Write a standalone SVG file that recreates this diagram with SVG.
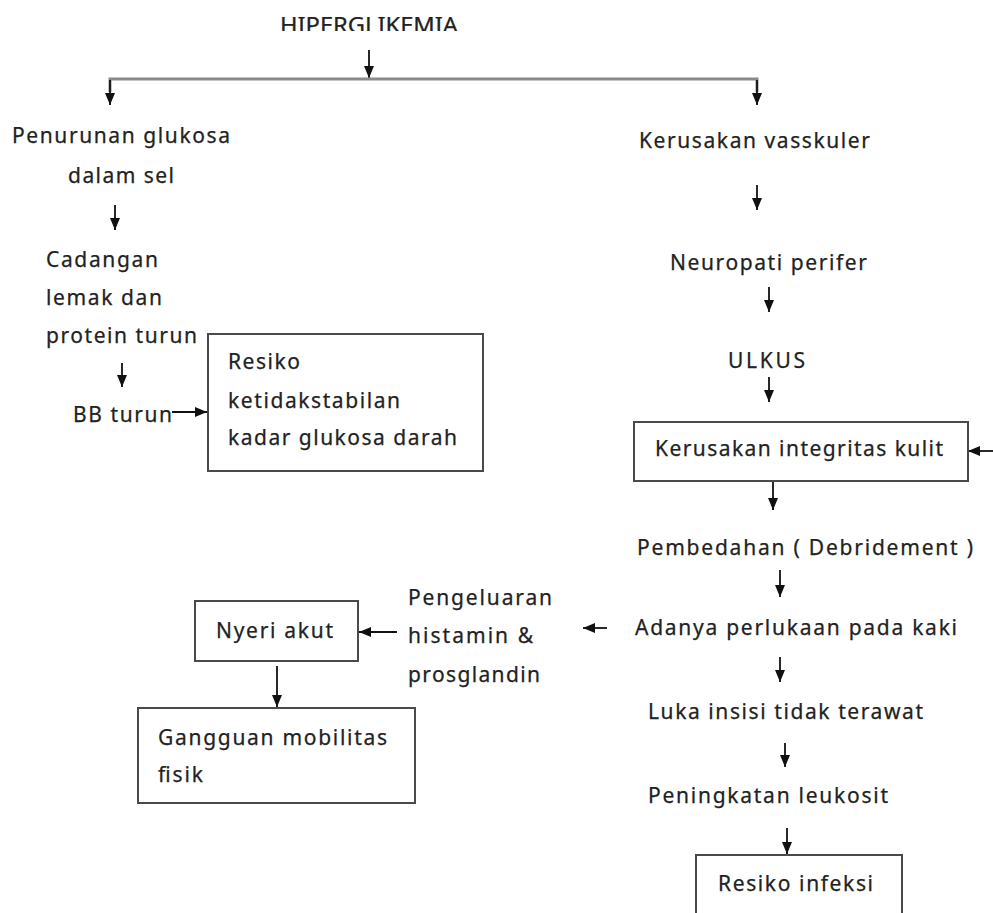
<svg xmlns="http://www.w3.org/2000/svg" width="993" height="913" viewBox="0 0 993 913">
<style>
text{font-family:"Noto Sans","Open Sans","Liberation Sans",sans-serif;font-size:21px;fill:#222;stroke:#222;stroke-width:0.25}
.box{fill:#fff;stroke:#4a4a4a;stroke-width:2}
.arr{stroke:#111;stroke-width:1.8;fill:none;marker-end:url(#ah)}
.bar{stroke:#8a8a8a;stroke-width:3;fill:none}
</style>
<defs>
<marker id="ah" markerUnits="userSpaceOnUse" markerWidth="14" markerHeight="14" viewBox="0 0 14 14" refX="13" refY="7" orient="auto">
<path d="M1,2 L13,7 L1,12 Z" fill="#111"/>
</marker>
<clipPath id="topclip"><rect x="0" y="0" width="993" height="31"/></clipPath>
</defs>
<rect width="993" height="913" fill="#fff"/>

<g id="connectors">
<line class="arr" x1="369" y1="50" x2="369" y2="78"/>
<polyline class="bar" points="110,92 110,79 757,79 757,92"/>
<line class="arr" x1="110" y1="80" x2="110" y2="105"/>
<line class="arr" x1="757" y1="80" x2="757" y2="105"/>
<line class="arr" x1="115" y1="205" x2="115" y2="230"/>
<line class="arr" x1="757" y1="185" x2="757" y2="210"/>
<line class="arr" x1="769" y1="287" x2="769" y2="312"/>
<line class="arr" x1="122" y1="363" x2="122" y2="387"/>
<line class="arr" x1="769" y1="377" x2="769" y2="402"/>
<line class="arr" x1="172" y1="412" x2="207" y2="412"/>
<line class="arr" x1="995" y1="451" x2="968" y2="451"/>
<line class="arr" x1="773" y1="481" x2="773" y2="510"/>
<line class="arr" x1="780" y1="570" x2="780" y2="597"/>
<line class="arr" x1="607" y1="628" x2="583" y2="628"/>
<line class="arr" x1="780" y1="657" x2="780" y2="682"/>
<line class="arr" x1="785" y1="743" x2="785" y2="767"/>
<line class="arr" x1="787" y1="828" x2="787" y2="854"/>
<line class="arr" x1="397" y1="632" x2="359" y2="632"/>
<line class="arr" x1="277" y1="666" x2="277" y2="707"/>
</g>

<g id="n-hiperglikemia">
<text x="280" y="33" font-size="20" textLength="178" lengthAdjust="spacingAndGlyphs" clip-path="url(#topclip)">HIPERGLIKEMIA</text>
</g>

<g id="n-penurunan">
<text x="12" y="143" textLength="218" lengthAdjust="spacing">Penurunan glukosa</text>
<text x="68" y="183" textLength="106" lengthAdjust="spacing">dalam sel</text>
</g>

<g id="n-cadangan">
<text x="46" y="267" textLength="112" lengthAdjust="spacing">Cadangan</text>
<text x="46" y="305" textLength="116" lengthAdjust="spacing">lemak dan</text>
<text x="46" y="343" textLength="151" lengthAdjust="spacing">protein turun</text>
</g>

<g id="n-bbturun">
<text x="73" y="422" textLength="99" lengthAdjust="spacing">BB turun</text>
</g>

<g id="n-resiko-glukosa">
<rect class="box" x="208" y="334" width="275" height="137"/>
<text x="228" y="369" textLength="72" lengthAdjust="spacing">Resiko</text>
<text x="228" y="408" textLength="172" lengthAdjust="spacing">ketidakstabilan</text>
<text x="228" y="445" textLength="229" lengthAdjust="spacing">kadar glukosa darah</text>
</g>

<g id="n-vaskuler">
<text x="639" y="148" textLength="231" lengthAdjust="spacing">Kerusakan vasskuler</text>
</g>

<g id="n-neuropati">
<text x="670" y="270" textLength="197" lengthAdjust="spacing">Neuropati perifer</text>
</g>

<g id="n-ulkus">
<text x="728" y="368" textLength="77" lengthAdjust="spacing">ULKUS</text>
</g>

<g id="n-integritas">
<rect class="box" x="634" y="422" width="334" height="59"/>
<text x="655" y="456" textLength="288" lengthAdjust="spacing">Kerusakan integritas kulit</text>
</g>

<g id="n-pembedahan">
<text x="637" y="555" textLength="336" lengthAdjust="spacing">Pembedahan ( Debridement )</text>
</g>

<g id="n-perlukaan">
<text x="635" y="635" textLength="322" lengthAdjust="spacing">Adanya perlukaan pada kaki</text>
</g>

<g id="n-luka">
<text x="648" y="719" textLength="275" lengthAdjust="spacing">Luka insisi tidak terawat</text>
</g>

<g id="n-leukosit">
<text x="648" y="803" textLength="240" lengthAdjust="spacing">Peningkatan leukosit</text>
</g>

<g id="n-infeksi">
<rect class="box" x="696" y="855" width="206" height="80"/>
<text x="718" y="891" textLength="155" lengthAdjust="spacing">Resiko infeksi</text>
</g>

<g id="n-pengeluaran">
<text x="408" y="605" textLength="144" lengthAdjust="spacing">Pengeluaran</text>
<text x="408" y="643" textLength="125" lengthAdjust="spacing">histamin &amp;</text>
<text x="408" y="682" textLength="132" lengthAdjust="spacing">prosglandin</text>
</g>

<g id="n-nyeri">
<rect class="box" x="195" y="601" width="163" height="60"/>
<text x="216" y="638" textLength="117" lengthAdjust="spacing">Nyeri akut</text>
</g>

<g id="n-mobilitas">
<rect class="box" x="138" y="708" width="277" height="95"/>
<text x="158" y="745" textLength="229" lengthAdjust="spacing">Gangguan mobilitas</text>
<text x="158" y="782" textLength="45" lengthAdjust="spacing">fisik</text>
</g>
</svg>
